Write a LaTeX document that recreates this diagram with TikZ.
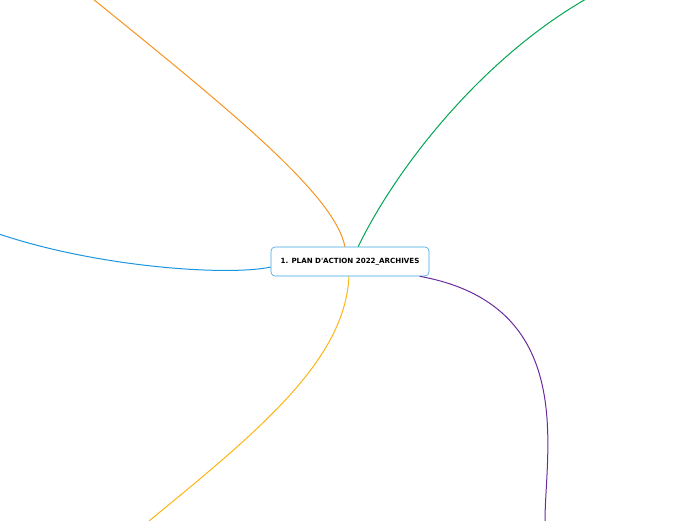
\documentclass[tikz,border=0pt]{standalone}
\usepackage{fontspec}
\newfontfamily\labelfont{DejaVu Sans}
\begin{document}
\begin{tikzpicture}[x=1pt,y=-1pt,
  central/.style={draw=cBorder, line width=0.6pt, fill=white, rounded corners=4pt,
    minimum width=158pt, minimum height=29pt, inner sep=0pt,
    font=\labelfont\bfseries\fontsize{7.1}{8}\selectfont},
  branch/.style={line width=1pt}]
\definecolor{cBorder}{HTML}{3BA5E0}
\definecolor{cOrange}{HTML}{F7941D}
\definecolor{cGreen}{HTML}{00A651}
\definecolor{cBlue}{HTML}{1B95E0}
\definecolor{cYellow}{HTML}{FDB515}
\definecolor{cPurple}{HTML}{6A2C9E}
\useasboundingbox (0,0) rectangle (696,520);
\clip (0,0) rectangle (696,520);
\coordinate (eo) at (93,-1);
\coordinate (eg) at (586,-1);
\coordinate (eb) at (-1,234);
\coordinate (ey) at (149,521);
\coordinate (ep) at (545,521);
\node[central] (c) at (350,261.5) {1. PLAN D'ACTION 2022\_ARCHIVES};
\draw[branch, cOrange] (c.109) .. controls (335,195) and (230,110) .. (eo);
\draw[branch, cGreen] (c.61) .. controls (395,170) and (480,60) .. (eg);
\draw[branch, cBlue] (c.184.7) .. controls (230,276) and (100,268) .. (eb);
\draw[branch, cYellow] (c.266) .. controls (345,360) and (260,430) .. (ey);
\draw[branch, cPurple] (c.348.5) .. controls (578,305) and (545,450) .. (ep);
\end{tikzpicture}
\end{document}
